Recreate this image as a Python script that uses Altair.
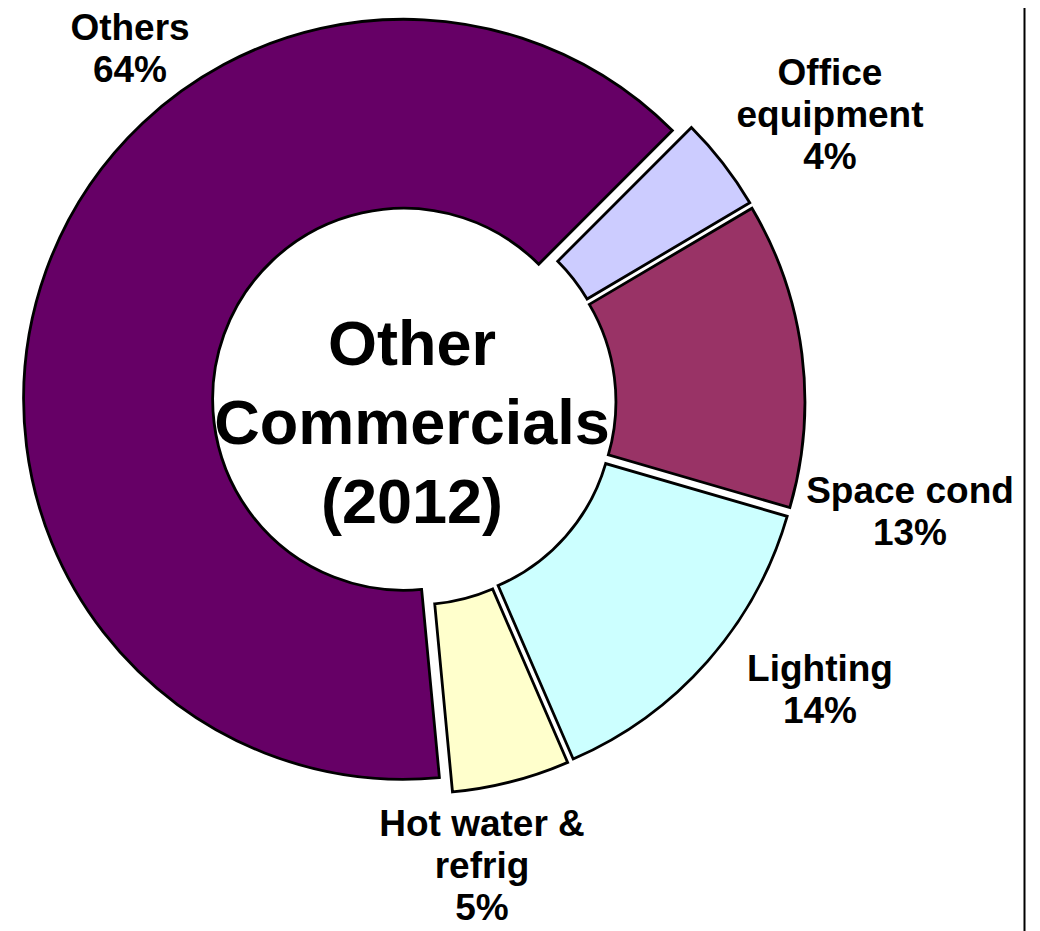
import math
import altair as alt
import pandas as pd

# ---- data ----
categories = ["Office equipment", "Space cond", "Lighting", "Hot water & refrig", "Others"]
shares = [4, 13, 14, 5, 64]
label_names = ["Office\nequipment", "Space cond", "Lighting", "Hot water &\nrefrig", "Others"]
center_title = ["Other", "Commercials", "(2012)"]

# ---- styles / layout ----
colors = ["#CCCCFF", "#993366", "#CCFFFF", "#FFFFCC", "#660066"]
W, H = 1020, 923
CX, CY = 406, 395
R_OUT, R_IN = 380, 191
EXPLODE = 11
TH0 = math.radians(45)
FONT = "Liberation Sans"
label_x = [822, 902, 812, 474, 122]
label_y = [77, 495, 673, 828, 32]

df = pd.DataFrame({"category": categories, "share": shares, "order": list(range(len(categories)))})
lab = pd.DataFrame({"name": label_names, "share": shares, "lx": label_x, "ly": label_y})
ctr = pd.DataFrame({"t": ["\n".join(center_title)]})

arcs = (
    alt.Chart(df)
    .transform_window(cum="sum(share)", sort=[alt.SortField("order")], frame=[None, 0])
    .transform_joinaggregate(total="sum(share)")
    .transform_calculate(
        a0=f"{TH0} + 2*PI*(datum.cum - datum.share)/datum.total",
        a1=f"{TH0} + 2*PI*datum.cum/datum.total",
        mid=f"{TH0} + 2*PI*(datum.cum - datum.share/2)/datum.total",
    )
    .transform_calculate(ox="sin(datum.mid)", oy="-cos(datum.mid)")
    .mark_arc(radius=R_OUT, radius2=R_IN, stroke="black", strokeWidth=2.8, strokeJoin="miter")
    .encode(
        theta=alt.Theta("a0:Q", scale=None, stack=None),
        theta2="a1:Q",
        x=alt.X("ox:Q", scale=alt.Scale(domain=[-1, 1], range=[CX - EXPLODE, CX + EXPLODE]), axis=None),
        y=alt.Y("oy:Q", scale=alt.Scale(domain=[-1, 1], range=[CY - EXPLODE, CY + EXPLODE]), axis=None),
        color=alt.Color("category:N", scale=alt.Scale(domain=categories, range=colors), legend=None),
    )
)

labels = (
    alt.Chart(lab)
    .transform_calculate(txt="datum.name + '\\n' + datum.share + '%'")
    .mark_text(font=FONT, fontSize=37, fontWeight="bold", align="center", baseline="alphabetic",
               lineBreak="\n", lineHeight=42, color="black")
    .encode(
        x=alt.X("lx:Q", scale=None, axis=None),
        y=alt.Y("ly:Q", scale=None, axis=None),
        text="txt:N",
    )
)

center = (
    alt.Chart(ctr)
    .mark_text(font=FONT, fontSize=63, fontWeight="bold", align="center", baseline="alphabetic",
               lineBreak="\n", lineHeight=79, color="black")
    .encode(x=alt.value(404), y=alt.value(357), text="t:N")
)

border = (
    alt.Chart(pd.DataFrame({"a": [0]}))
    .mark_rule(color="black", strokeWidth=2)
    .encode(x=alt.value(1016.5), y=alt.value(0), y2=alt.value(H))
)

chart = (
    alt.layer(arcs, labels, center, border)
    .resolve_scale(x="independent", y="independent")
    .properties(width=W, height=H, autosize=alt.AutoSizeParams(type="none"), padding=0)
    .configure_view(stroke=None)
)

chart.save("out.html", embed_options={"renderer": "svg", "actions": False})
